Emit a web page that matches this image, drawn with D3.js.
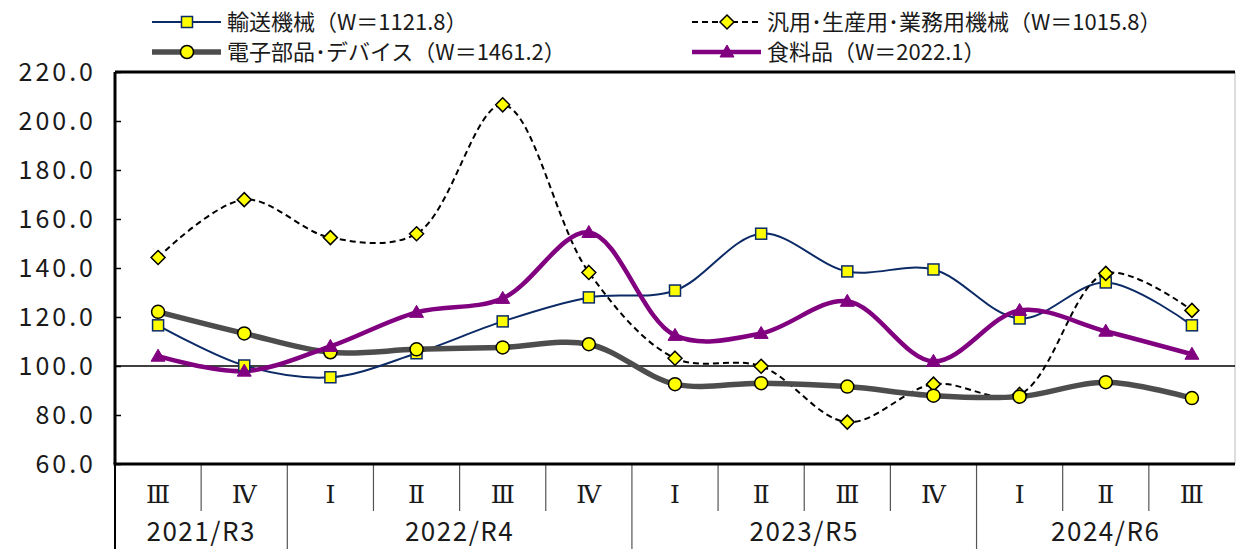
<!DOCTYPE html>
<html>
<head>
<meta charset="utf-8">
<script src="https://cdn.jsdelivr.net/npm/d3@7"></script>
<style>
  body { margin: 0; background: #fff; }
  text { font-family: "Noto Sans CJK JP", "Noto Sans", sans-serif; fill: #1a1a1a; }
  .roman { font-family: "DejaVu Serif", "Liberation Serif", serif; }
</style>
</head>
<body>
<script>
// quarters and fiscal years
const quarters = ["Ⅲ", "Ⅳ", "Ⅰ", "Ⅱ", "Ⅲ", "Ⅳ", "Ⅰ", "Ⅱ", "Ⅲ", "Ⅳ", "Ⅰ", "Ⅱ", "Ⅲ"];
const years = [
    {label: "2021/R3", from: 0, to: 1},
    {label: "2022/R4", from: 2, to: 5},
    {label: "2023/R5", from: 6, to: 9},
    {label: "2024/R6", from: 10, to: 12}
];
const yTicks = [60, 80, 100, 120, 140, 160, 180, 200, 220];

const transport = [116.6, 100.2, 95.4, 105.2, 118.2, 128.0, 130.8, 154.0, 138.6, 139.4, 119.4, 134.1, 116.6];
const general = [144.3, 167.9, 152.4, 154.0, 206.6, 138.2, 103.2, 99.9, 77.1, 92.6, 88.4, 137.8, 122.7];
const electronic = [122.1, 113.3, 105.6, 106.8, 107.6, 108.9, 92.6, 93.0, 91.6, 87.9, 87.5, 93.4, 86.9];
const food = [104.0, 97.9, 108.0, 121.9, 127.6, 154.5, 112.5, 113.3, 126.4, 101.9, 122.7, 114.2, 104.8];

const series = [
    {name: "輸送機械（W＝1121.8）", values: transport, color: "#0b2a66", width: 2, dash: null, marker: "square", lx: 152, ly: 22},
    {name: "汎用･生産用･業務用機械（W＝1015.8）", values: general, color: "#000000", width: 2, dash: "6,4", marker: "diamond", lx: 692, ly: 22},
    {name: "電子部品･デバイス（W＝1461.2）", values: electronic, color: "#4d4d4d", width: 5.5, dash: null, marker: "circle", lx: 152, ly: 52},
    {name: "食料品（W＝2022.1）", values: food, color: "#800080", width: 4.5, dash: null, marker: "triangle", lx: 692, ly: 52}
];

const margin = {top: 72, right: 1, bottom: 85, left: 115};
const W = 1236, H = 549;
const width = W - margin.left - margin.right, height = H - margin.top - margin.bottom;

const svg = d3.select('body').append('svg')
    .attr('width', W)
    .attr('height', H);

const g = svg.append('g')
    .attr('transform', `translate(${margin.left}, ${margin.top})`);

const xScale = d3.scaleBand()
    .domain(quarters.map((q, i) => i))
    .range([0, width]);

const yScale = d3.scaleLinear()
    .domain([60, 220])
    .range([height, 0]);

const cx = i => xScale(i) + xScale.bandwidth() / 2;

// y axis, ticks pointing into the plot
const yAxis = d3.axisLeft(yScale)
    .tickValues(yTicks)
    .tickSizeInner(-6)
    .tickSizeOuter(0)
    .tickPadding(19)
    .tickFormat(d => d.toFixed(1));

const ya = g.append('g').call(yAxis);
ya.select('.domain').remove();
ya.selectAll('line').attr('stroke', '#000').attr('stroke-width', 1.5);
ya.selectAll('text')
    .attr('font-size', 25)
    .attr('letter-spacing', 3)
    .attr('fill', '#1a1a1a')
    .style('font-family', '"Noto Sans CJK JP", sans-serif');

// frame
g.append('line').attr('x1', width).attr('x2', width).attr('y1', 0).attr('y2', height)
    .attr('stroke', '#bbb').attr('stroke-width', 1);
g.append('line').attr('x1', 0).attr('x2', width).attr('y1', 0).attr('y2', 0)
    .attr('stroke', '#000').attr('stroke-width', 3);
g.append('line').attr('x1', 0).attr('x2', 0).attr('y1', 0).attr('y2', height)
    .attr('stroke', '#000').attr('stroke-width', 3);

// reference line at 100
g.append('line')
    .attr('x1', 0).attr('x2', width)
    .attr('y1', yScale(100)).attr('y2', yScale(100))
    .attr('stroke', '#000').attr('stroke-width', 1.5);

// category axis (two levels)
const groupStarts = years.map(y => y.from);
quarters.forEach((q, i) => {
    const x = xScale(i);
    const full = groupStarts.includes(i);
    g.append('line')
        .attr('x1', x).attr('x2', x)
        .attr('y1', height).attr('y2', full ? H - margin.top : height + 47)
        .attr('stroke', i === 0 ? '#000' : '#555').attr('stroke-width', i === 0 ? 2 : 1.2);
    g.append('text')
        .attr('class', 'roman')
        .attr('x', cx(i))
        .attr('y', height + 39)
        .attr('text-anchor', 'middle')
        .attr('font-size', 25)
        .text(q);
});
years.forEach(y => {
    const x0 = xScale(y.from), x1 = xScale(y.to) + xScale.bandwidth();
    g.append('text')
        .attr('x', (x0 + x1) / 2)
        .attr('y', height + 77)
        .attr('text-anchor', 'middle')
        .attr('font-size', 26)
        .attr('letter-spacing', 1.5)
        .text(y.label);
});
g.append('line').attr('x1', -1.5).attr('x2', width).attr('y1', height).attr('y2', height)
    .attr('stroke', '#000').attr('stroke-width', 3);

// markers
function drawMarker(sel, type, color) {
    if (type === 'square') {
        sel.append('rect').attr('x', -5.5).attr('y', -5.5).attr('width', 11).attr('height', 11)
            .attr('fill', '#ffff00').attr('stroke', '#0b2a66').attr('stroke-width', 1.5);
    } else if (type === 'diamond') {
        sel.append('path').attr('d', 'M0,-7L7,0L0,7L-7,0Z')
            .attr('fill', '#ffff00').attr('stroke', '#000').attr('stroke-width', 1.5);
    } else if (type === 'circle') {
        sel.append('circle').attr('r', 6.5)
            .attr('fill', '#ffff00').attr('stroke', '#000').attr('stroke-width', 1.5);
    } else {
        sel.append('path').attr('d', 'M0,-7L7,5L-7,5Z')
            .attr('fill', color).attr('stroke', color).attr('stroke-width', 1);
    }
}

const line = d3.line()
    .x((d, i) => cx(i))
    .y(d => yScale(d))
    .curve(d3.curveCatmullRom.alpha(0.5));

series.forEach(s => {
    g.append('path')
        .datum(s.values)
        .attr('fill', 'none')
        .attr('stroke', s.color)
        .attr('stroke-width', s.width)
        .attr('stroke-dasharray', s.dash)
        .attr('d', line);
});
series.forEach(s => {
    s.values.forEach((v, i) => {
        const m = g.append('g').attr('transform', `translate(${cx(i)}, ${yScale(v)})`);
        drawMarker(m, s.marker, s.color);
    });
});

// legend
series.forEach(s => {
    const lg = svg.append('g').attr('transform', `translate(${s.lx}, ${s.ly})`);
    lg.append('line').attr('x1', 0).attr('x2', 69).attr('y1', 0).attr('y2', 0)
        .attr('stroke', s.color).attr('stroke-width', s.width)
        .attr('stroke-dasharray', s.dash);
    drawMarker(lg.append('g').attr('transform', 'translate(35,0)'), s.marker, s.color);
    lg.append('text')
        .attr('x', 75)
        .attr('y', 8)
        .attr('font-size', 22)
        .text(s.name);
});
</script>
</body>
</html>
